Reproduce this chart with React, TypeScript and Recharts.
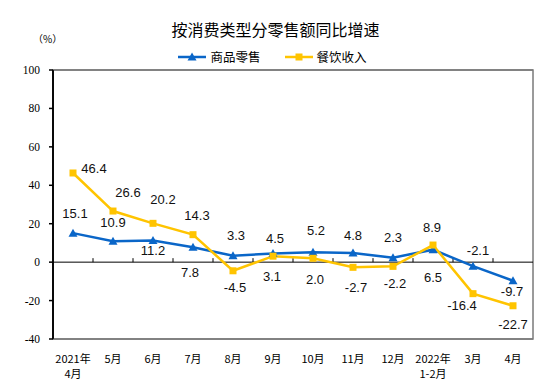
import React from "react";
import * as Recharts from "recharts";
import { LineChart, Line, XAxis, YAxis, ReferenceLine, LabelList, Legend } from "recharts";

const categories = ["2021年\n4月", "5月", "6月", "7月", "8月", "9月", "10月", "11月", "12月", "2022年\n1-2月", "3月", "4月"];
const retailGrowth = [15.1, 10.9, 11.2, 7.8, 3.3, 4.5, 5.2, 4.8, 2.3, 6.5, -2.1, -9.7];
const cateringGrowth = [46.4, 26.6, 20.2, 14.3, -4.5, 3.1, 2.0, -2.7, -2.2, 8.9, -16.4, -22.7];
const yTicks = [-40, -20, 0, 20, 40, 60, 80, 100];
const yMin = -40;
const yMax = 100;
const seriesNames = { retail: "商品零售", catering: "餐饮收入" };
const title = "按消费类型分零售额同比增速";
const unitLabel = "（%）";

// label placement (style): [dx, dy] from point to text centre
const retailLabelOffsets: [number, number][] = [
  [2, -20], [0, -19], [0, 10], [-3, 25], [3, -20], [2, -15], [3, -22], [0, -17], [0, -20], [0, 28], [5, -16], [-1, 11],
];
const cateringLabelOffsets: [number, number][] = [
  [21, -4], [15, -19], [10, -24], [4, -19], [2, 17], [-1, 20], [2, 21], [3, 20], [2, 17], [-1, -18], [-11, 12], [0, 19],
];

const BLUE = "#0A66C8";
const YELLOW = "#FFC400";
const BORDER = "#7a7a7a";

const data = categories.map((c, i) => ({
  cat: c,
  retail: retailGrowth[i],
  catering: cateringGrowth[i],
}));

const usePlotAreaHook: any = (Recharts as any).usePlotArea || (Recharts as any).useOffset || null;

const PlotFrame = () => {
  const area = usePlotAreaHook ? usePlotAreaHook() : null;
  if (!area) return null;
  const x = area.x != null ? area.x : area.left;
  const y = area.y != null ? area.y : area.top;
  const w = area.width;
  const h = area.height;
  if (x == null || y == null || w == null || h == null) return null;
  return (
    <g>
      <rect x={x} y={y} width={w} height={h} fill="none" stroke={BORDER} strokeWidth={1.5} />
      <line x1={x} y1={y} x2={x} y2={y + h} stroke="#000" strokeWidth={1.5} />
    </g>
  );
};

const makeLabel = (offsets: [number, number][]) => (props: any) => {
  const { x, y, value, index } = props;
  if (x == null || y == null || value == null) return null;
  const [dx, dy] = offsets[index] || [0, -15];
  return (
    <text
      x={Number(x) + dx}
      y={Number(y) + dy}
      textAnchor="middle"
      dominantBaseline="central"
      fontFamily="'Liberation Sans', Arial, sans-serif"
      fontSize={13}
      fill="#111"
    >
      {Number(value).toFixed(1)}
    </text>
  );
};

const TriangleDot = (props: any) => {
  const { cx, cy } = props;
  if (cx == null || cy == null) return null;
  return <polygon points={`${cx},${cy - 4.5} ${cx - 4.5},${cy + 3.5} ${cx + 4.5},${cy + 3.5}`} fill={BLUE} />;
};

const SquareDot = (props: any) => {
  const { cx, cy } = props;
  if (cx == null || cy == null) return null;
  return <rect x={cx - 3.5} y={cy - 3.5} width={7} height={7} fill={YELLOW} />;
};

const XTick = (props: any) => {
  const { x, y, payload } = props;
  const lines = String(payload.value).split("\n");
  return (
    <text
      x={x}
      y={y}
      textAnchor="middle"
      fontFamily="'Noto Sans CJK SC', sans-serif"
      fontSize={11}
      fill="#000"
    >
      {lines.map((l, i) => (
        <tspan key={i} x={x} dy={i === 0 ? 22 : 15}>
          {l}
        </tspan>
      ))}
    </text>
  );
};

const YTick = (props: any) => {
  const { x, y, payload } = props;
  return (
    <text
      x={x}
      y={y}
      textAnchor="end"
      dominantBaseline="central"
      fontFamily="'Liberation Serif', 'Times New Roman', serif"
      fontSize={11.5}
      fill="#000"
    >
      {payload.value}
    </text>
  );
};

const ZeroLine = (props: any) => {
  const { x1, y1, x2, y2 } = props;
  if (x1 == null) return null;
  const n = categories.length;
  const step = (x2 - x1) / n;
  const ticks = [];
  for (let i = 1; i < n; i++) {
    const tx = x1 + step * i;
    ticks.push(<line key={i} x1={tx} y1={y1} x2={tx} y2={y1 - 4} stroke="#000" strokeWidth={1} />);
  }
  return (
    <g>
      <line x1={x1} y1={y1} x2={x2} y2={y2} stroke="#000" strokeWidth={1} />
      {ticks}
    </g>
  );
};

const BorderLine = (props: any) => {
  const { x1, y1, x2 } = props;
  if (x1 == null) return null;
  return <line x1={x1} y1={y1} x2={x2} y2={y1} stroke={BORDER} strokeWidth={1.5} />;
};

const LegendContent = () => {
  const item = (color: string, marker: React.ReactNode, label: string) => (
    <div style={{ display: "flex", alignItems: "center", marginRight: 24 }}>
      <svg width={30} height={10} style={{ marginRight: 2 }}>
        <line x1={0} y1={5} x2={28} y2={5} stroke={color} strokeWidth={2.5} />
        {marker}
      </svg>
      <span style={{ fontFamily: "'Noto Sans CJK SC', sans-serif", fontSize: 12.5, color: "#000", lineHeight: "14px" }}>
        {label}
      </span>
    </div>
  );
  return (
    <div style={{ display: "flex", justifyContent: "center", paddingLeft: 18 }}>
      {item(BLUE, <polygon points="14,0.5 9.5,8.5 18.5,8.5" fill={BLUE} />, seriesNames.retail)}
      {item(YELLOW, <rect x={10.5} y={1.5} width={7} height={7} fill={YELLOW} />, seriesNames.catering)}
    </div>
  );
};

export default function App() {
  return (
    <div style={{ position: "absolute", left: 0, top: 0, width: 551, height: 387, background: "#fff" }}>
      <div
        style={{
          position: "absolute",
          left: 0,
          top: 20,
          width: 551,
          textAlign: "center",
          fontFamily: "'Noto Sans CJK SC', sans-serif",
          fontSize: 16,
          lineHeight: "18px",
          color: "#000",
          zIndex: 2,
        }}
      >
        {title}
      </div>
      <div
        style={{
          position: "absolute",
          left: 33,
          top: 32,
          fontFamily: "'Noto Sans CJK SC', sans-serif",
          fontSize: 10,
          lineHeight: "14px",
          color: "#000",
          zIndex: 2,
        }}
      >
        {unitLabel}
      </div>
      <LineChart width={551} height={387} data={data} margin={{ top: 70, right: 18, bottom: 0, left: 0 }}>
        <Legend
          layout="horizontal"
          verticalAlign="middle"
          align="center"
          content={<LegendContent />}
          wrapperStyle={{ position: "absolute", top: 50, left: 0, width: 551 }}
        />
        <PlotFrame />
        <XAxis
          dataKey="cat"
          scale="band"
          height={48}
          interval={0}
          tick={<XTick />}
          tickLine={false}
          tickSize={0}
          axisLine={false}
        />
        <YAxis
          width={53}
          domain={[yMin, yMax]}
          ticks={yTicks}
          tick={<YTick />}
          tickSize={4}
          tickMargin={9}
          tickLine={{ stroke: "#000" }}
          stroke="#000"
          strokeWidth={1.5}
          allowDataOverflow
        />
        <ReferenceLine y={yMax} shape={BorderLine} ifOverflow="visible" />
        <ReferenceLine y={yMin} shape={BorderLine} ifOverflow="visible" />
        <ReferenceLine y={0} shape={ZeroLine} />
        <Line
          type="linear"
          dataKey="retail"
          name={seriesNames.retail}
          stroke={BLUE}
          strokeWidth={2.5}
          dot={<TriangleDot />}
          activeDot={false}
          isAnimationActive={false}
        >
          <LabelList dataKey="retail" content={makeLabel(retailLabelOffsets)} />
        </Line>
        <Line
          type="linear"
          dataKey="catering"
          name={seriesNames.catering}
          stroke={YELLOW}
          strokeWidth={2.5}
          dot={<SquareDot />}
          activeDot={false}
          isAnimationActive={false}
        >
          <LabelList dataKey="catering" content={makeLabel(cateringLabelOffsets)} />
        </Line>
      </LineChart>
    </div>
  );
}
